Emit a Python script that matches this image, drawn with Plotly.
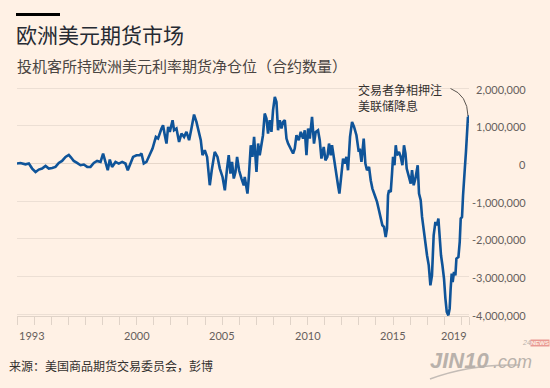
import plotly.graph_objects as go
import pandas as pd

# ---------------- data (net speculative positions, thousands of contracts) ----------------
dates = [
    "1993-01-01", "1993-03-16", "1993-07-02", "1993-09-11", "1993-11-21", "1994-02-02", "1994-04-12",
    "1994-06-21", "1994-09-03", "1994-11-12", "1995-01-22", "1995-04-03", "1995-06-13", "1995-08-22",
    "1995-11-04", "1996-01-13", "1996-03-02", "1996-04-28", "1996-07-08", "1996-09-19", "1996-11-29",
    "1997-02-09", "1997-04-20", "1997-06-30", "1997-09-09", "1997-11-21", "1998-01-15", "1998-03-06",
    "1998-04-24", "1998-06-07", "1998-07-25", "1998-10-07", "1998-12-16", "1999-02-26", "1999-05-07",
    "1999-06-26", "1999-08-08", "1999-10-17", "1999-12-29", "2000-03-08", "2000-04-14", "2000-06-02",
    "2000-07-29", "2000-10-09", "2000-12-06", "2001-02-15", "2001-04-03", "2001-06-15", "2001-07-19",
    "2001-08-25", "2001-09-30", "2001-11-04", "2001-12-10", "2002-02-07", "2002-03-11", "2002-05-01",
    "2002-06-26", "2002-08-16", "2002-10-11", "2002-12-01", "2003-01-26", "2003-03-17", "2003-05-12",
    "2003-07-02", "2003-08-21", "2003-10-03", "2003-11-08", "2003-12-27", "2004-02-15", "2004-04-12",
    "2004-05-24", "2004-07-27", "2004-09-24", "2004-11-13", "2005-01-10", "2005-02-28", "2005-04-16",
    "2005-05-22", "2005-06-28", "2005-08-01", "2005-09-07", "2005-10-13", "2005-11-17", "2005-12-29",
    "2006-02-19", "2006-04-08", "2006-04-29", "2006-06-26", "2006-07-23", "2006-09-05", "2006-10-11",
    "2006-11-15", "2007-01-05", "2007-02-09", "2007-03-15", "2007-04-21", "2007-05-24", "2007-06-30",
    "2007-08-06", "2007-09-09", "2007-10-15", "2007-11-21", "2007-12-25", "2008-02-01", "2008-03-07",
    "2008-04-10", "2008-05-16", "2008-06-22", "2008-07-26", "2008-09-01", "2008-10-07", "2008-11-11",
    "2008-12-16", "2009-01-22", "2009-02-25", "2009-04-02", "2009-05-08", "2009-06-26", "2009-08-08",
    "2009-09-27", "2009-11-02", "2009-12-08", "2010-01-12", "2010-02-17", "2010-04-06", "2010-05-18",
    "2010-06-24", "2010-08-12", "2010-09-18", "2010-10-24", "2010-12-12", "2011-01-18", "2011-02-28",
    "2011-04-04", "2011-05-10", "2011-06-07", "2011-07-19", "2011-09-10", "2011-10-13", "2011-11-12",
    "2011-12-25", "2012-01-29", "2012-03-04", "2012-04-10", "2012-05-14", "2012-06-26", "2012-08-08",
    "2012-09-20", "2012-11-10", "2012-12-29", "2013-01-20", "2013-02-25", "2013-04-14", "2013-05-20",
    "2013-06-23", "2013-08-06", "2013-09-11", "2013-10-17", "2013-12-06", "2014-01-24", "2014-03-06",
    "2014-04-12", "2014-05-18", "2014-06-22", "2014-07-28", "2014-08-25", "2014-09-16", "2014-10-07",
    "2014-11-13", "2014-12-10", "2015-01-01", "2015-02-01", "2015-02-28", "2015-03-26", "2015-05-08",
    "2015-06-14", "2015-07-20", "2015-08-23", "2015-09-23", "2015-10-20", "2015-11-17", "2015-12-23",
    "2016-01-14", "2016-02-11", "2016-03-17", "2016-04-23", "2016-05-14", "2016-06-11", "2016-07-09",
    "2016-08-14", "2016-09-12", "2016-10-18", "2016-11-24", "2016-12-27", "2017-02-02", "2017-03-09",
    "2017-04-12", "2017-05-18", "2017-06-24", "2017-07-28", "2017-08-27", "2017-09-24", "2017-10-22",
    "2017-11-21", "2017-12-25", "2018-01-24", "2018-02-22", "2018-03-28", "2018-04-25", "2018-05-16",
    "2018-06-07", "2018-06-28", "2018-07-26", "2018-08-25", "2018-09-16", "2018-10-29", "2018-11-26",
    "2018-12-17", "2019-01-14", "2019-02-05", "2019-02-26", "2019-03-17", "2019-04-08", "2019-04-30",
    "2019-05-21", "2019-06-05", "2019-06-11",
]
net_k = [
    0, 15, -20, 0, -133, -223, -160,
    -133, -64, -133, -117, -90, 16, 69,
    176, 229, 160, 69, 16, -45, -27,
    -90, -90, 16, 69, 43, 266, 16,
    -178, 106, -90, 43, 0, 43, 0,
    -178, -27, 176, 221, 221, 266, 0,
    43, 221, 399, 708, 665, 931, 1019,
    753, 532, 974, 841, 1152, 886, 931,
    575, 798, 708, 841, 620, 931, 1303,
    1107, 841, 620, 221, 354, 176, -577,
    -178, 309, 176, -133, -356, -710, -133,
    221, -266, 43, -399, -223, 176, -178,
    -399, -577, -356, -798, -399, 487, 176,
    708, -223, 532, 221, 532, 753, 1330,
    1197, 798, 1152, 841, 1418, 1771, 1639,
    886, 1152, 931, 1107, 1152, 665, 532,
    442, 354, 266, 399, 753, 620, 841,
    665, 886, 221, 931, 665, 1240, 532,
    841, 886, 620, 133, 442, 88, 176,
    532, 221, 487, 88, -266, -577, -798,
    -266, 133, 0, 176, -178, 708, 1107,
    974, 753, 309, 399, 43, 665, 0,
    -178, -90, -444, -665, -843, -1021, -1242,
    -1420, -1641, -1686, -1952, -1729, -843, -710,
    -755, -266, 176, -45, 487, 221, 309,
    176, -45, 487, 266, -133, -266, -399,
    -532, -178, -577, -399, -266, -45, -798,
    -976, -1420, -1819, -2085, -2439, -2705, -3237,
    -2971, -1907, -1553, -1641, -1463, -2085, -2439,
    -2705, -3059, -3591, -3947, -4035, -3857, -3325,
    -2926, -3149, -2883, -2971, -2527, -2484, -2085,
    -1463, -1420, -843, -223, -90, 309, 753,
    1240, 1064, 1285,
]

ytick_vals = [2_000_000, 1_000_000, 0, -1_000_000, -2_000_000, -3_000_000, -4_000_000]
xtick_years = list(range(1993, 2020))
xlabel_years = [1993, 2000, 2005, 2010, 2015, 2019]

title_text = "欧洲美元期货市场"
subtitle_text = "投机客所持欧洲美元利率期货净仓位（合约数量）"
note_lines = ["交易者争相押注", "美联储降息"]
source_text = "来源：美国商品期货交易委员会，彭博"

x_start, x_end = "1993-01-01", "2019-06-12"

# ---------------- layout geometry ----------------
WIDTH, HEIGHT = 550, 388
L, R, T, B = 17, 81, 87, 72
PW, PH = WIDTH - L - R, HEIGHT - T - B


def fx(px):
    return (px - L) / PW


def fy(py):
    return (HEIGHT - B - py) / PH


BG = "#fff1e5"
LINE = "#0f5499"
GRID = "#ecdfd4"
AXIS = "#e0d3c8"
TICKTXT = "#66605c"
CJK = "Noto Sans CJK SC"
NUM = "Lato"
WM = "#b9b1ab"

values = [v * 1000 for v in net_k]

fig = go.Figure()
fig.add_trace(go.Scatter(
    x=pd.to_datetime(dates), y=values, mode="lines",
    line=dict(color=LINE, width=2.6), hoverinfo="skip", showlegend=False,
))

ann = []
# y tick labels (right aligned on the right side)
for v in ytick_vals:
    ann.append(dict(text=f"{v:,}", xref="paper", x=fx(528), xanchor="right",
                    yref="y", y=v, yanchor="middle", yshift=-1, showarrow=False,
                    font=dict(family=NUM, size=11, color=TICKTXT)))
# x labels
for yr in xlabel_years:
    if yr == xlabel_years[0]:
        xv, xa = x_start, "left"
    elif yr == xlabel_years[-1]:
        xv, xa = x_end, "right"
    else:
        xv, xa = f"{yr}-01-01", "center"
    ann.append(dict(text=str(yr), xref="x", x=xv, xanchor=xa, yref="paper", y=fy(335),
                    yanchor="middle", showarrow=False,
                    font=dict(family=NUM, size=11, color=TICKTXT)))
# title, subtitle
ann.append(dict(text=title_text, xref="paper", x=fx(14), xanchor="left", yref="paper", y=fy(33.5),
                yanchor="middle", showarrow=False, font=dict(family=CJK, size=21, color="#262a33")))
ann.append(dict(text=subtitle_text, xref="paper", x=fx(15), xanchor="left", yref="paper", y=fy(65),
                yanchor="middle", showarrow=False, font=dict(family=CJK, size=15, color="#4a4542")))
# note
ann.append(dict(text="<br>".join(note_lines), xref="paper", x=fx(356), xanchor="left", align="left",
                yref="paper", y=fy(97.8), yanchor="middle", showarrow=False,
                font=dict(family=CJK, size=12, color="#33302e")))
# source
ann.append(dict(text=source_text, xref="paper", x=fx(7), xanchor="left", yref="paper", y=fy(365),
                yanchor="middle", showarrow=False, font=dict(family=CJK, size=12, color="#33302e")))
# watermark
ann.append(dict(text="<b><i>JIN10</i></b>", xref="paper", x=fx(428), xanchor="left", yref="paper", y=fy(360),
                yanchor="middle", showarrow=False, font=dict(family="Liberation Sans", size=22, color=WM)))
ann.append(dict(text="<i>.com</i>", xref="paper", x=fx(491), xanchor="left", yref="paper", y=fy(362),
                yanchor="middle", showarrow=False, font=dict(family="Liberation Sans", size=18, color=WM)))
ann.append(dict(text="<i>24</i>", xref="paper", x=fx(520), xanchor="left", yref="paper", y=fy(342.5),
                yanchor="middle", showarrow=False, font=dict(family="Liberation Sans", size=7, color=WM)))
ann.append(dict(text="<b>NEWS</b>", xref="paper", x=fx(530), xanchor="left", yref="paper", y=fy(342.5),
                yanchor="middle", showarrow=False, bgcolor="#e99a94", borderpad=0,
                font=dict(family="Liberation Sans", size=6, color="#fff1e5")))

shapes = [
    # title bar
    dict(type="rect", xref="paper", yref="paper", x0=fx(16), x1=fx(60), y0=fy(16), y1=fy(13),
         fillcolor="#000000", line=dict(width=0)),
    # annotation arc
    dict(type="path", xref="paper", yref="paper",
         path=f"M {fx(450.5)} {fy(88.5)} Q {fx(467.5)} {fy(95)} {fx(468)} {fy(116)}",
         line=dict(color="#5a5550", width=1)),
    # watermark swoosh
    dict(type="path", xref="paper", yref="paper",
         path=f"M {fx(430)} {fy(379)} Q {fx(470)} {fy(364)} {fx(520)} {fy(365)}",
         line=dict(color="#c4bcb6", width=1.6)),
]

tickvals = [pd.Timestamp(f"{y}-01-01") for y in xtick_years] + [pd.Timestamp(x_end)]

fig.update_layout(
    width=WIDTH, height=HEIGHT,
    margin=dict(l=L, r=R, t=T, b=B, pad=0),
    paper_bgcolor=BG, plot_bgcolor=BG,
    showlegend=False,
    annotations=ann, shapes=shapes,
    xaxis=dict(
        type="date", range=[x_start, x_end], showgrid=False, zeroline=False,
        showline=True, linecolor=AXIS, linewidth=1,
        ticks="outside", ticklen=8, tickcolor=AXIS, tickwidth=1,
        tickvals=tickvals, showticklabels=False,
    ),
    yaxis=dict(
        range=[-4_053_000, 2_035_000], showgrid=True, gridcolor=GRID, gridwidth=1,
        tickvals=ytick_vals, showticklabels=False, zeroline=True, zerolinecolor="#e6d7ca",
        zerolinewidth=1, showline=False, ticks="",
    ),
)

fig.write_html(
    "out.html",
    config={"displayModeBar": False},
    post_script="document.body.style.margin='0';document.body.style.background='#fff1e5';",
)
